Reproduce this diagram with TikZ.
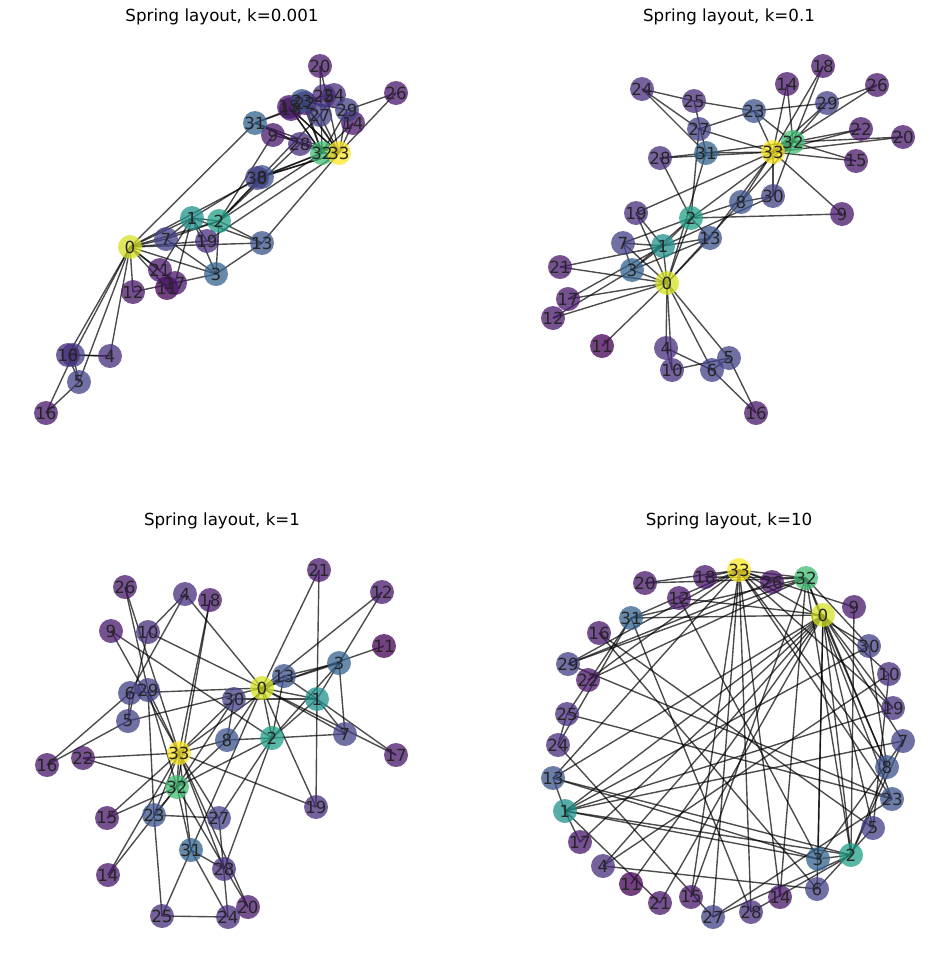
\documentclass[tikz,border=0pt]{standalone}
\usepackage{fontspec}
\setmainfont{DejaVu Sans}
\pgfdeclarelayer{background}
\pgfdeclarelayer{foreground}
\pgfsetlayers{background,main,foreground}
% viridis by degree
\definecolor{v1}{RGB}{68,1,84}
\definecolor{v2}{RGB}{72,23,106}
\definecolor{v3}{RGB}{71,45,123}
\definecolor{v4}{RGB}{66,64,133}
\definecolor{v5}{RGB}{59,82,139}
\definecolor{v6}{RGB}{52,98,141}
\definecolor{v9}{RGB}{33,145,140}
\definecolor{v10}{RGB}{34,159,135}
\definecolor{v12}{RGB}{64,188,114}
\definecolor{v16}{RGB}{213,226,38}
\definecolor{v17}{RGB}{253,231,37}
\colorlet{n0}{v16}\colorlet{n1}{v9}\colorlet{n2}{v10}\colorlet{n3}{v6}
\colorlet{n4}{v3}\colorlet{n5}{v4}\colorlet{n6}{v4}\colorlet{n7}{v4}
\colorlet{n8}{v5}\colorlet{n9}{v2}\colorlet{n10}{v3}\colorlet{n11}{v1}
\colorlet{n12}{v2}\colorlet{n13}{v5}\colorlet{n14}{v2}\colorlet{n15}{v2}
\colorlet{n16}{v2}\colorlet{n17}{v2}\colorlet{n18}{v2}\colorlet{n19}{v3}
\colorlet{n20}{v2}\colorlet{n21}{v2}\colorlet{n22}{v2}\colorlet{n23}{v5}
\colorlet{n24}{v3}\colorlet{n25}{v3}\colorlet{n26}{v2}\colorlet{n27}{v4}
\colorlet{n28}{v3}\colorlet{n29}{v4}\colorlet{n30}{v4}\colorlet{n31}{v6}
\colorlet{n32}{v12}\colorlet{n33}{v17}
\begin{document}
\begin{tikzpicture}[x=0.72pt,y=-0.72pt,
  nd/.style={circle, minimum size=17.28pt, inner sep=0pt, fill opacity=0.75},
  lbl/.style={font=\fontsize{12pt}{14pt}\selectfont, text=black!85, inner sep=0pt},
  edge/.style={draw=black, draw opacity=0.7, line width=1pt},
  ttl/.style={font=\fontsize{12pt}{14pt}\selectfont, inner sep=0pt}]
\useasboundingbox (0,0) rectangle (950,964);
% titles
\node[ttl] (t1) at (222,17) {Spring layout, k=0.001};
\node[ttl] (t2) at (729,17) {Spring layout, k=0.1};
\node[ttl] (t3) at (222,521) {Spring layout, k=1};
\node[ttl] (t4) at (729,521) {Spring layout, k=10};
% panel a: k=0.001
\foreach \i/\x/\y in {0/130/247, 1/192/218, 2/219/221, 3/216/274, 4/110/356, 5/79/382, 6/73/355, 7/166/239, 8/262/177, 9/273/135, 10/68/355, 11/167/288, 12/133/292, 13/262/243, 14/353/123, 15/289/107, 16/46/413, 17/175/283, 18/291/109, 19/207/241, 20/320/66, 21/160/270, 22/305/103, 23/302/101, 24/334/95, 25/324/96, 26/396/93, 27/320/115, 28/300/144, 29/347/110, 30/257/178, 31/255/123, 32/322/153, 33/339/153}
  {\node[nd, fill=n\i] (a\i) at (\x,\y) {};}
% panel b: k=0.1
\foreach \i/\x/\y in {0/667/283, 1/663/246, 2/691/218, 3/632/270, 4/666/348, 5/729/358, 6/712/370, 7/623/243, 8/741/202, 9/842/214, 10/672/370, 11/602/346, 12/553/318, 13/710/238, 14/787/84, 15/856/161, 16/756/413, 17/568/299, 18/823/66, 19/636/213, 20/903/137, 21/560/267, 22/861/129, 23/754/111, 24/642/89, 25/694/101, 26/877/85, 27/699/129, 28/660/158, 29/827/103, 30/773/196, 31/706/153, 32/793/142, 33/773/152}
  {\node[nd, fill=n\i] (b\i) at (\x,\y) {};}
% panel c: k=1
\foreach \i/\x/\y in {0/262/688, 1/317/699, 2/272/738, 3/339/663, 4/185/594, 5/128/721, 6/130/693, 7/345/734, 8/227/740, 9/111/631, 10/148/632, 11/384/646, 12/382/592, 13/284/676, 14/108/875, 15/107/818, 16/47/765, 17/396/755, 18/210/600, 19/316/807, 20/248/907, 21/319/570, 22/83/758, 23/154/815, 24/228/917, 25/162/916, 26/125/587, 27/219/818, 28/224/869, 29/148/690, 30/234/699, 31/191/850, 32/177/787, 33/179/753}
  {\node[nd, fill=n\i] (c\i) at (\x,\y) {};}
% panel d: k=10
\foreach \i/\x/\y in {0/823/615, 1/565/811, 2/851/855, 3/818/859, 4/603/866, 5/873/828, 6/817/889, 7/903/741, 8/887/767, 9/854/607, 10/889/674, 11/631/884, 12/679/598, 13/553/778, 14/780/897, 15/691/897, 16/599/633, 17/580/842, 18/705/577, 19/893/708, 20/645/583, 21/660/903, 22/588/680, 23/892/799, 24/558/745, 25/567/714, 26/772/582, 27/713/917, 28/751/912, 29/568/664, 30/869/646, 31/631/618, 32/806/578, 33/739/570}
  {\node[nd, fill=n\i] (d\i) at (\x,\y) {};}
% edges
\begin{pgfonlayer}{background}
\foreach \p in {a,b,c,d}{
  \foreach \u/\v in {0/1,0/2,0/3,0/4,0/5,0/6,0/7,0/8,0/10,0/11,0/12,0/13,0/17,0/19,0/21,0/31,
    1/2,1/3,1/7,1/13,1/17,1/19,1/21,1/30,
    2/3,2/7,2/8,2/9,2/13,2/27,2/28,2/32,
    3/7,3/12,3/13,4/6,4/10,5/6,5/10,5/16,6/16,
    8/30,8/32,8/33,9/33,13/33,14/32,14/33,15/32,15/33,18/32,18/33,19/33,
    20/32,20/33,22/32,22/33,23/25,23/27,23/29,23/32,23/33,
    24/25,24/27,24/31,25/31,26/29,26/33,27/33,28/31,28/33,
    29/32,29/33,30/32,30/33,31/32,31/33,32/33}
    {\draw[edge] (\p\u.center) -- (\p\v.center);}
}
\end{pgfonlayer}
% labels
\begin{pgfonlayer}{foreground}
\foreach \p in {a,b,c,d}{
  \foreach \i in {0,...,33}{\node[lbl] (l\p\i) at (\p\i) {\i};}
}
\end{pgfonlayer}
\end{tikzpicture}
\end{document}
